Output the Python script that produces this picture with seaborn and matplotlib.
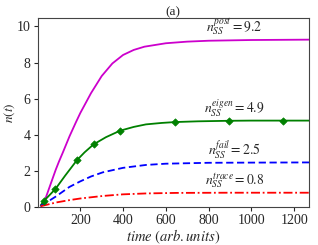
import numpy as np
import pandas as pd
import matplotlib
matplotlib.use("Agg")
import matplotlib.pyplot as plt
import seaborn as sns

# values
t_post = [15, 25, 40, 55, 70, 85, 100, 118, 150, 180, 200, 250, 300, 350, 400, 450, 500, 600, 700, 800, 1000, 1270]
n_post = [0.05, 0.18, 0.55, 1.05, 1.55, 2.05, 2.5, 3.0, 3.92, 4.7, 5.2, 6.3, 7.25, 7.95, 8.42, 8.7, 8.88, 9.07, 9.16, 9.21, 9.25, 9.27]

t_eigen = [15, 28, 84, 130, 184, 220, 262, 320, 386, 450, 507, 580, 645, 750, 895, 1000, 1149, 1270]
n_eigen = [0.08, 0.3, 0.99, 1.74, 2.58, 3.02, 3.46, 3.86, 4.22, 4.43, 4.57, 4.65, 4.70, 4.74, 4.77, 4.78, 4.78, 4.78]
t_eigen_mk = [28, 84, 184, 262, 386, 645, 895, 1149]
n_eigen_mk = [0.3, 0.99, 2.58, 3.46, 4.22, 4.70, 4.77, 4.78]

t_fail = [15, 50, 87, 149, 200, 250, 305, 400, 507, 600, 800, 1000, 1270]
n_fail = [0.05, 0.3, 0.58, 1.10, 1.41, 1.68, 1.91, 2.16, 2.32, 2.39, 2.44, 2.45, 2.46]

t_trace = [15, 87, 150, 200, 305, 400, 507, 650, 900, 1270]
n_trace = [0.03, 0.24, 0.37, 0.46, 0.60, 0.69, 0.74, 0.77, 0.78, 0.78]

labels = [r"$n_{SS}^{post}=9.2$", r"$n_{SS}^{eigen}=4.9$",
          r"$n_{SS}^{fail}=2.5$", r"$n_{SS}^{trace}=0.8$"]
label_y = [9.98, 5.48, 3.15, 1.45]

sns.set_style("ticks")
plt.rcParams['font.family'] = ['Liberation Serif', 'DejaVu Serif']
plt.rcParams['mathtext.fontset'] = 'stix'

fig = plt.figure(figsize=(3.18, 2.45), dpi=100)
ax = fig.add_axes([0.118, 0.156, 0.854, 0.769])

lw = 1.3
sns.lineplot(x=t_post, y=n_post, color='#cc00cc', lw=lw, ax=ax)
sns.lineplot(x=t_eigen, y=n_eigen, color='g', lw=lw, ax=ax)
sns.scatterplot(x=t_eigen_mk, y=n_eigen_mk, color='g', marker='D', s=14,
                edgecolor='g', linewidth=0.5, ax=ax, zorder=3)
sns.lineplot(x=t_fail, y=n_fail, color='b', lw=lw, linestyle=(0, (4, 2)), ax=ax)
sns.lineplot(x=t_trace, y=n_trace, color='r', lw=lw, linestyle=(0, (5, 1.5, 1, 1.5)), ax=ax)

for lab, y in zip(labels, label_y):
    ax.text(920, y, lab, ha='center', va='center', fontsize=9.8)

ax.set_xlim(0, 1270)
ax.set_ylim(0, 10.45)
ax.set_xticks([200, 400, 600, 800, 1000, 1200])
ax.set_yticks([0, 2, 4, 6, 8, 10])
ax.tick_params(labelsize=10, length=3, width=0.8, pad=2)
for s in ax.spines.values():
    s.set_color('#444444')
    s.set_linewidth(0.8)
ax.set_xlabel(r"$time\ (arb.units)$", fontsize=10.5, labelpad=1)
ax.set_ylabel(r"$n(t)$", fontsize=9.5)
ax.yaxis.set_label_coords(-0.075, 0.5)
ax.set_title("(a)", fontsize=9.5, pad=2)

fig.savefig("out.png", dpi=100)
